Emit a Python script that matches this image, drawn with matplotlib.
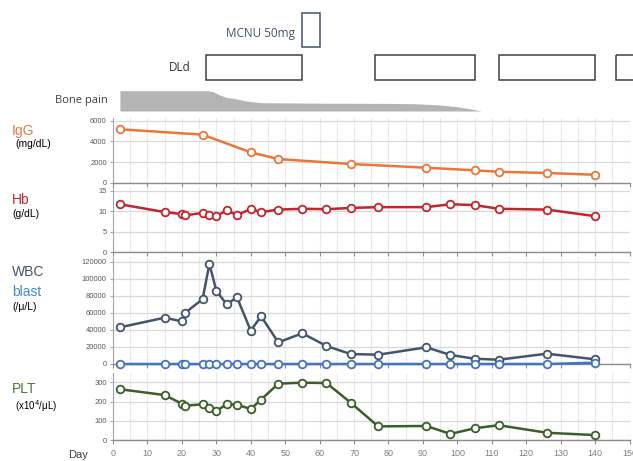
import matplotlib.pyplot as plt
from matplotlib.patches import Rectangle
from matplotlib.ticker import MultipleLocator

# data
igg_days = [2, 26, 40, 48, 69, 91, 105, 112, 126, 140]
igg_vals = [5170, 4650, 2940, 2290, 1810, 1450, 1200, 1060, 940, 770]

hb_days = [2, 15, 20, 21, 26, 28, 30, 33, 36, 40, 43, 48, 55, 62, 69, 77, 91, 98, 105, 112, 126, 140]
hb_vals = [11.7, 9.8, 9.3, 9.0, 9.6, 9.0, 8.8, 10.2, 9.1, 10.5, 9.8, 10.4, 10.6, 10.5, 10.8, 11.0,
           11.0, 11.7, 11.5, 10.6, 10.4, 8.8]

wbc_days = [2, 15, 20, 21, 26, 28, 30, 33, 36, 40, 43, 48, 55, 62, 69, 77, 91, 98, 105, 112, 126, 140]
wbc_vals = [43000, 54300, 50000, 60200, 75900, 117300, 86000, 70000, 78200, 39100, 56000, 25400,
            36000, 21100, 11700, 10900, 19600, 10600, 6200, 5000, 12100, 5500]
blast_vals = [0, 0, 0, 0, 0, 0, 0, 0, 0, 0, 0, 0, 0, 0, 0, 0, 0, 0, 0, 0, 0, 1500]

plt_days = [2, 15, 20, 21, 26, 28, 30, 33, 36, 40, 43, 48, 55, 62, 69, 77, 91, 98, 105, 112, 126, 140]
plt_vals = [264, 234, 189, 179, 186, 169, 152, 186, 184, 162, 210, 293, 298, 296, 195, 72, 74, 33,
            62, 78, 39, 27]

# treatment periods (days)
dld_start = [27, 76, 112, 146]
dld_end = [55, 105, 140, 165]
mcnu_start = 55
mcnu_end = 60

# bone pain intensity (relative band height)
pain_days = [2, 27, 29, 31, 33, 35, 39, 43, 60, 80, 88, 95, 100, 104, 107]
pain_level = [20.3, 20.3, 19.5, 16, 13.5, 12.7, 9.8, 8.3, 7.8, 7.6, 7.3, 6, 4.3, 2, 0]

W, H = 633, 461
fig = plt.figure(figsize=(W / 100, H / 100), dpi=100)

left = 113 / W
width = 516.5 / W

def px_axes(top_px, bottom_px):
    return fig.add_axes([left, 1 - bottom_px / H, width, (bottom_px - top_px) / H])

tick_font = dict(family='Liberation Sans', size=5.5, color='#595959')

def style(ax, ylim, yticks, show_x=False):
    ax.set_xlim(0, 150)
    ax.set_ylim(*ylim)
    ax.set_yticks(yticks)
    ax.xaxis.set_major_locator(MultipleLocator(10))
    ax.xaxis.set_minor_locator(MultipleLocator(5))
    ax.grid(axis='y', which='major', color='#d9d9d9', lw=0.9)
    ax.grid(axis='x', which='both', color='#e9e9e9', lw=0.8)
    ax.set_axisbelow(True)
    for s in ['top', 'right']:
        ax.spines[s].set_visible(False)
    ax.spines['left'].set_color('#a6a6a6')
    ax.spines['bottom'].set_color('#8c8c8c')
    ax.spines['bottom'].set_linewidth(1.0)
    ax.tick_params(axis='x', which='major', length=3, color='#8c8c8c', labelbottom=show_x)
    ax.tick_params(axis='x', which='minor', length=0)
    ax.tick_params(axis='y', length=2.5, color='#a6a6a6', pad=2)
    for lab in ax.get_yticklabels() + ax.get_xticklabels():
        lab.set_fontfamily(tick_font['family'])
        lab.set_fontsize(tick_font['size'])
        lab.set_color(tick_font['color'])

line_kw = dict(marker='o', mfc='white', ms=5.5, mew=1.3, lw=1.8, zorder=3, clip_on=False)

# IgG
ax1 = px_axes(117.6, 182.7)
ax1.plot(igg_days, igg_vals, color='#e8773a', mec='#e8773a', **line_kw)
style(ax1, (0, 6300), [0, 2000, 4000, 6000])

# Hb
ax2 = px_axes(186.6, 252.3)
ax2.plot(hb_days, hb_vals, color='#c0262d', mec='#c0262d', **line_kw)
style(ax2, (0, 16), [0, 5, 10, 15])

# WBC / blast
ax3 = px_axes(257.4, 364)
ax3.plot(wbc_days, wbc_vals, color='#44546a', mec='#44546a', **line_kw)
ax3.plot(wbc_days, blast_vals, color='#4473c0', mec='#4473c0', **line_kw)
style(ax3, (0, 125000), list(range(0, 120001, 20000)))

# PLT
ax4 = px_axes(372.6, 440.3)
ax4.plot(plt_days, plt_vals, color='#3b5e2b', mec='#3b5e2b', **line_kw)
style(ax4, (0, 350), [0, 100, 200, 300], show_x=True)
ax4.tick_params(axis='x', pad=3)
for lab in ax4.get_xticklabels():
    lab.set_fontsize(6.5)
    lab.set_color('#7f7f7f')

# left labels
lab_font = 'Liberation Sans'
fig.text(12 / W, 1 - 131 / H, 'IgG', color='#e07a3f', fontsize=10, family=lab_font, va='center')
fig.text(15 / W, 1 - 144 / H, '(mg/dL)', color='black', fontsize=7.5, family=lab_font, va='center')
fig.text(12 / W, 1 - 200 / H, 'Hb', color='#c0262d', fontsize=10, family=lab_font, va='center')
fig.text(12 / W, 1 - 214 / H, '(g/dL)', color='black', fontsize=7.5, family=lab_font, va='center')
fig.text(12 / W, 1 - 272 / H, 'WBC', color='#44546a', fontsize=10, family=lab_font, va='center')
fig.text(12 / W, 1 - 292 / H, 'blast', color='#4a89c8', fontsize=10, family=lab_font, va='center')
fig.text(12 / W, 1 - 307 / H, '(/\u03bc/L)', color='black', fontsize=7.5, family=lab_font, va='center')
fig.text(12 / W, 1 - 389 / H, 'PLT', color='#4e7a35', fontsize=10, family=lab_font, va='center')
fig.text(15 / W, 1 - 406 / H, '(x10$^4$/\u03bcL)', color='black', fontsize=7, family=lab_font, va='center')
fig.text(68 / W, 1 - 455 / H, 'Day', color='#404040', fontsize=8, family=lab_font, va='center')

# top annotation strip (y in pixels from the figure top)
axt = fig.add_axes([left, 1 - 117 / H, width, 117 / H])
axt.set_xlim(0, 150)
axt.set_ylim(117, 0)
axt.axis('off')

base = 111
axt.fill_between(pain_days, [base - v for v in pain_level], base, color='#b4b4b4', lw=0)
axt.text(-1.6, 100, 'Bone pain', ha='right', va='center', fontsize=8, family='Open Sans', color='#404040')

for s, e in zip(dld_start, dld_end):
    axt.add_patch(Rectangle((s, 55), e - s, 25, fill=False, ec='#404040', lw=1.1, clip_on=False))
axt.text(19.5, 67.5, 'DLd', ha='center', va='center', fontsize=8.5, family='Open Sans', color='#333333')

axt.add_patch(Rectangle((mcnu_start, 13.5), mcnu_end - mcnu_start, 33.5, fill=False,
                        ec='#44546a', lw=1.1, clip_on=False))
axt.text(52.8, 33, 'MCNU 50mg', ha='right', va='center', fontsize=8.5, family='Open Sans', color='#44546a')

fig.savefig('out.png', dpi=100)
